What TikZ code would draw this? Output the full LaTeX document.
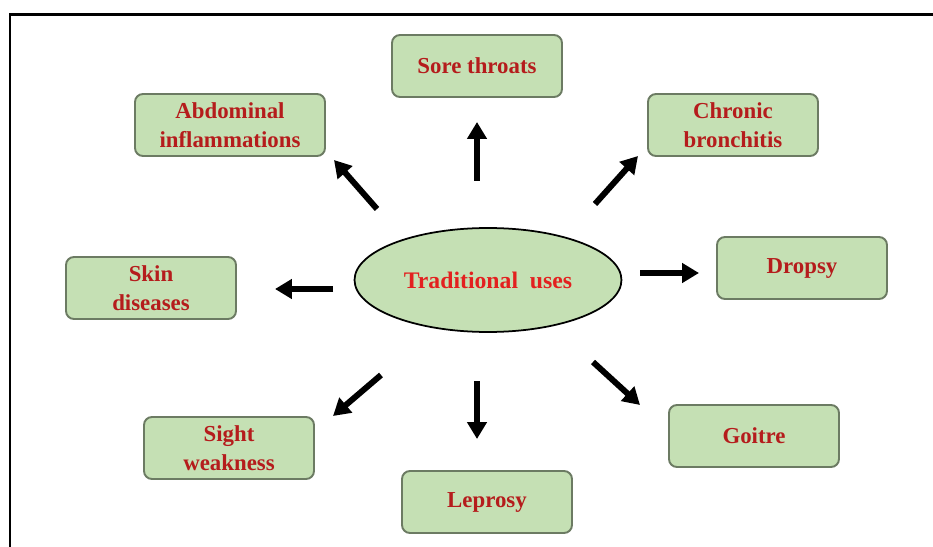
\documentclass[tikz,border=0pt]{standalone}
\usepackage{fontspec}
\setmainfont{Liberation Serif}
\usetikzlibrary{shapes.geometric,arrows.meta}
\definecolor{boxgreen}{HTML}{C5E0B4}
\definecolor{boxedge}{HTML}{6C7B63}
\definecolor{usered}{HTML}{B51C1C}
\definecolor{tradred}{HTML}{E3201F}
\tikzset{
  usebox/.style={draw=boxedge, line width=1.1pt, fill=boxgreen, rounded corners=4.5pt,
    minimum width=3.4cm, minimum height=1.24cm, align=center, text=usered,
    font=\fontsize{13}{16.5}\selectfont\bfseries},
  fatarrow/.style={line width=3.4pt, -{Triangle[length=9.6pt,width=10.8pt]}},
}
\begin{document}
\begin{tikzpicture}[x=0.02cm, y=-0.02cm]
            \useasboundingbox (0,0) rectangle (933,547);
            % frame
            \draw[line width=1.7pt] (10,547) -- (10,14.5) -- (933,14.5);
            % centre
            \node[ellipse, draw, line width=1pt, fill=boxgreen, minimum width=5.34cm, minimum height=2.08cm,
                  text=tradred, font=\fontsize{13.5}{16}\selectfont\bfseries] (trad) at (488,280) {Traditional\ \ uses};
            % uses
            \node[usebox] (sore) at (477,66) {Sore throats};
            \node[usebox, minimum width=3.8cm] (abdo) at (230,125) {Abdominal\\inflammations};
            \node[usebox] (bron) at (733,125) {Chronic\\bronchitis};
            \node[usebox] (skin) at (151,288) {Skin\\diseases};
            \node[usebox] (drop) at (802,268) {Dropsy};
            \node[usebox] (sight) at (229,448) {Sight\\weakness};
            \node[usebox] (goit) at (754,436) {Goitre};
            \node[usebox] (lep) at (487,502) {Leprosy};
            % arrow ends
            \coordinate (upA) at (477,181);  \coordinate (upB) at (477,122);
            \coordinate (ulA) at (377,209);  \coordinate (ulB) at (334,160);
            \coordinate (urA) at (595,204);  \coordinate (urB) at (638,156);
            \coordinate (rA) at (640,273);   \coordinate (rB) at (699,273);
            \coordinate (lA) at (333,289);   \coordinate (lB) at (275,289);
            \coordinate (llA) at (381,375);  \coordinate (llB) at (333,416);
            \coordinate (dA) at (477,381);   \coordinate (dB) at (477,439);
            \coordinate (lrA) at (593,362);  \coordinate (lrB) at (640,405);
            \draw[fatarrow] (upA) -- (upB);
            \draw[fatarrow] (ulA) -- (ulB);
            \draw[fatarrow] (urA) -- (urB);
            \draw[fatarrow] (rA) -- (rB);
            \draw[fatarrow] (lA) -- (lB);
            \draw[fatarrow] (llA) -- (llB);
            \draw[fatarrow] (dA) -- (dB);
            \draw[fatarrow] (lrA) -- (lrB);
\end{tikzpicture}
\end{document}
